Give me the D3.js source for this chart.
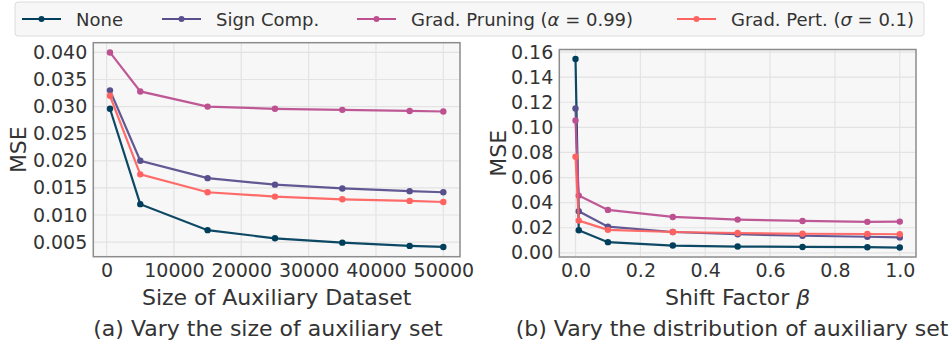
<!doctype html>
<html>
<head>
<meta charset="utf-8">
<script src="https://cdn.jsdelivr.net/npm/d3@7"></script>
<style>
  body { margin: 0; background: #fff; }
  svg text { font-family: "DejaVu Sans", sans-serif; fill: #333; }
</style>
</head>
<body>
<svg id="chart" width="952" height="345"></svg>
<script>
// ---- data ----
var seriesNames = ["None", "Sign Comp.", "Grad. Pruning", "Grad. Pert."];
var colors = ["#003f5c", "#58508d", "#bc5090", "#ff6361"];

// (a) size of auxiliary dataset
var sizeX = [500, 5000, 15000, 25000, 35000, 45000, 50000];
var sizeNone    = [0.0296, 0.0120, 0.0072, 0.0057, 0.0049, 0.0043, 0.0041];
var sizeSign    = [0.0330, 0.0200, 0.0168, 0.0156, 0.0149, 0.0144, 0.0142];
var sizePruning = [0.0400, 0.0328, 0.0300, 0.0296, 0.0294, 0.0292, 0.0291];
var sizePert    = [0.0320, 0.0175, 0.0142, 0.0134, 0.0129, 0.0126, 0.0124];
var sizeTicksX = [0, 10000, 20000, 30000, 40000, 50000];
var sizeTicksY = [0.005, 0.010, 0.015, 0.020, 0.025, 0.030, 0.035, 0.040];

// (b) shift factor beta
var shiftX = [0, 0.01, 0.1, 0.3, 0.5, 0.7, 0.9, 1.0];
var shiftNone    = [0.1545, 0.0180, 0.0085, 0.0058, 0.0050, 0.0047, 0.0045, 0.0042];
var shiftSign    = [0.1150, 0.0331, 0.0209, 0.0166, 0.0148, 0.0136, 0.0128, 0.0123];
var shiftPruning = [0.1055, 0.0456, 0.0342, 0.0286, 0.0265, 0.0254, 0.0247, 0.0249];
var shiftPert    = [0.0766, 0.0257, 0.0183, 0.0166, 0.0158, 0.0152, 0.0150, 0.0148];
var shiftTicksX = [0, 0.2, 0.4, 0.6, 0.8, 1.0];
var shiftTicksY = [0, 0.02, 0.04, 0.06, 0.08, 0.10, 0.12, 0.14, 0.16];

var svg = d3.select("#chart");

// matplotlib-like 5% margins
function padded(vals) {
  var e = d3.extent(vals), p = (e[1] - e[0]) * 0.05;
  return [e[0] - p, e[1] + p];
}

function panel(opt) {
  var x = d3.scaleLinear().domain(padded(opt.xs)).range([opt.left, opt.right]);
  var allY = [].concat.apply([], opt.series);
  var y = d3.scaleLinear().domain(padded(allY)).range([opt.bottom, opt.top]);
  var g = svg.append("g");

  g.append("rect")
    .attr("x", opt.left).attr("y", opt.top)
    .attr("width", opt.right - opt.left).attr("height", opt.bottom - opt.top)
    .attr("fill", "#f7f7f7");

  // grid
  g.selectAll(".gx").data(opt.ticksX).enter().append("line")
    .attr("x1", d => x(d)).attr("x2", d => x(d))
    .attr("y1", opt.top).attr("y2", opt.bottom)
    .attr("stroke", "#e3e3e3").attr("stroke-width", 1.2);
  g.selectAll(".gy").data(opt.ticksY).enter().append("line")
    .attr("y1", d => y(d)).attr("y2", d => y(d))
    .attr("x1", opt.left).attr("x2", opt.right)
    .attr("stroke", "#e3e3e3").attr("stroke-width", 1.2);

  // axes (no tick marks)
  var ax = g.append("g").attr("transform", "translate(0," + opt.bottom + ")")
    .call(d3.axisBottom(x).tickValues(opt.ticksX).tickFormat(opt.fmtX).tickSize(0).tickPadding(7));
  var ay = g.append("g").attr("transform", "translate(" + opt.left + ",0)")
    .call(d3.axisLeft(y).tickValues(opt.ticksY).tickFormat(opt.fmtY).tickSize(0).tickPadding(6));
  [ax, ay].forEach(function (a) {
    a.select(".domain").remove();
    a.selectAll("text").style("font-family", "DejaVu Sans").style("font-size", "19px").attr("fill", "#333");
  });

  // lines
  var line = d3.line().x((d, i) => x(opt.xs[i])).y(d => y(d));
  opt.series.forEach(function (s, k) {
    g.append("path").datum(s)
      .attr("d", line).attr("fill", "none")
      .attr("stroke", colors[k]).attr("stroke-width", 2.2).attr("stroke-opacity", 0.95);
    g.selectAll(".m" + k).data(s).enter().append("circle")
      .attr("cx", (d, i) => x(opt.xs[i])).attr("cy", d => y(d)).attr("r", 3.2)
      .attr("fill", colors[k]);
  });

  g.append("rect")
    .attr("x", opt.left).attr("y", opt.top)
    .attr("width", opt.right - opt.left).attr("height", opt.bottom - opt.top)
    .attr("fill", "none").attr("stroke", "#8c8c8c").attr("stroke-width", 1.5);

  // labels
  g.append("text")
    .attr("transform", "translate(" + opt.ylabX + "," + ((opt.top + opt.bottom) / 2) + ") rotate(-90)")
    .attr("text-anchor", "middle").attr("dominant-baseline", "central")
    .style("font-size", "22px").attr("fill", "#111").text("MSE");
  var xl = g.append("text")
    .attr("x", (opt.left + opt.right) / 2).attr("y", 297)
    .attr("text-anchor", "middle").attr("dominant-baseline", "central")
    .style("font-size", "22px").attr("fill", "#111");
  opt.xlabel(xl);
  g.append("text")
    .attr("x", opt.capX).attr("y", 328)
    .attr("text-anchor", "middle").attr("dominant-baseline", "central")
    .style("font-size", "22px").attr("fill", "#111").text(opt.caption);
}

panel({
  left: 93.3, right: 460, top: 42.7, bottom: 256.7,
  xs: sizeX, series: [sizeNone, sizeSign, sizePruning, sizePert],
  ticksX: sizeTicksX, ticksY: sizeTicksY,
  fmtX: d3.format("d"), fmtY: d3.format(".3f"),
  ylabX: 18,
  xlabel: function (t) { t.text("Size of Auxiliary Dataset"); },
  capX: 268, caption: "(a) Vary the size of auxiliary set"
});

panel({
  left: 559.3, right: 916, top: 49.5, bottom: 257,
  xs: shiftX, series: [shiftNone, shiftSign, shiftPruning, shiftPert],
  ticksX: shiftTicksX, ticksY: shiftTicksY,
  fmtX: d3.format(".1f"), fmtY: d3.format(".2f"),
  ylabX: 498,
  xlabel: function (t) {
    t.append("tspan").text("Shift Factor ");
    t.append("tspan").style("font-style", "italic").text("β");
  },
  capX: 732, caption: "(b) Vary the distribution of auxiliary set"
});

// ---- legend ----
var leg = svg.append("g");
leg.append("rect").attr("x", 15).attr("y", 2).attr("width", 909).attr("height", 34)
  .attr("rx", 3).attr("fill", "#f7f7f7").attr("stroke", "#dcdcdc").attr("stroke-width", 1);
var legX = [22, 162, 357, 677];
var legLabels = [
  [["None", false]],
  [["Sign Comp.", false]],
  [["Grad. Pruning (", false], ["α", true], [" = 0.99)", false]],
  [["Grad. Pert. (", false], ["σ", true], [" = 0.1)", false]]
];
legX.forEach(function (lx, k) {
  leg.append("line").attr("x1", lx).attr("x2", lx + 39).attr("y1", 19).attr("y2", 19)
    .attr("stroke", colors[k]).attr("stroke-width", 2.2);
  leg.append("circle").attr("cx", lx + 19.5).attr("cy", 19).attr("r", 3).attr("fill", colors[k]);
  var t = leg.append("text").attr("x", lx + 54).attr("y", 19)
    .attr("dominant-baseline", "central").style("font-size", "18px").attr("fill", "#111");
  legLabels[k].forEach(function (p) {
    var s = t.append("tspan").text(p[0]);
    if (p[1]) s.style("font-style", "italic");
  });
});
</script>
</body>
</html>
